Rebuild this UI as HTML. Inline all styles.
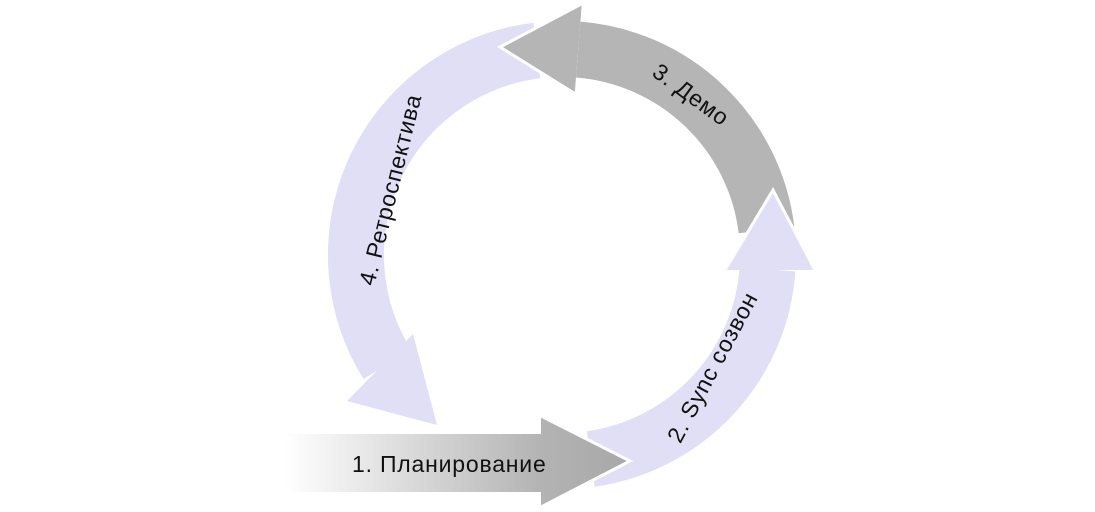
<!DOCTYPE html>
<html><head><meta charset="utf-8"><style>
html,body{margin:0;padding:0;background:#fff;}
svg{display:block;}
text{font-family:"Liberation Sans",sans-serif;font-size:23px;fill:#111;letter-spacing:0.8px;}
</style></head><body>
<svg width="1095" height="512" viewBox="0 0 1095 512" xmlns="http://www.w3.org/2000/svg">
<defs>
<linearGradient id="g" x1="285" y1="0" x2="628" y2="0" gradientUnits="userSpaceOnUse">
<stop offset="0" stop-color="#ffffff"/><stop offset="0.75" stop-color="#b3b3b3"/><stop offset="1" stop-color="#a8a8a8"/>
</linearGradient>
</defs>
<path d="M536.9,50.5 A206,206 0 0 0 387.3,364.2" fill="none" stroke="#e0dff5" stroke-width="56"/>
<polygon points="347,401 413,334 437,425" fill="#e0dff5"/>
<path d="M766.5,229.9 A206,206 0 0 0 578.2,49.6" fill="none" stroke="#b5b5b5" stroke-width="56"/>
<polygon points="574.7,93.5 581.8,3.8 500,47" fill="#b5b5b5"/>
<polyline points="574.7,93.5 500,47 581.8,3.8" fill="none" stroke="#fff" stroke-width="3"/>
<path d="M590.7,459 A206,206 0 0 0 767.5,269.4" fill="none" stroke="#e0dff5" stroke-width="56"/>
<polygon points="725,270 815,270 773,190" fill="#e0dff5"/>
<polyline points="725,270 773,190 815,270" fill="none" stroke="#fff" stroke-width="3"/>
<path d="M285,434 H541 V416 L630,461 L541,507 V492 H285 Z" fill="url(#g)"/>
<polyline points="541,416 630,461 541,507" fill="none" stroke="#fff" stroke-width="3"/>
<text x="352" y="472">1. Планирование</text>
<text transform="translate(690,96) rotate(36)" text-anchor="middle" dominant-baseline="middle">3. Демо</text>
<text transform="translate(714,368) rotate(-62)" text-anchor="middle" dominant-baseline="middle">2. Sync созвон</text>
<text transform="translate(392,190) rotate(-76)" text-anchor="middle" dominant-baseline="middle">4. Ретроспектива</text>
</svg>
</body></html>
